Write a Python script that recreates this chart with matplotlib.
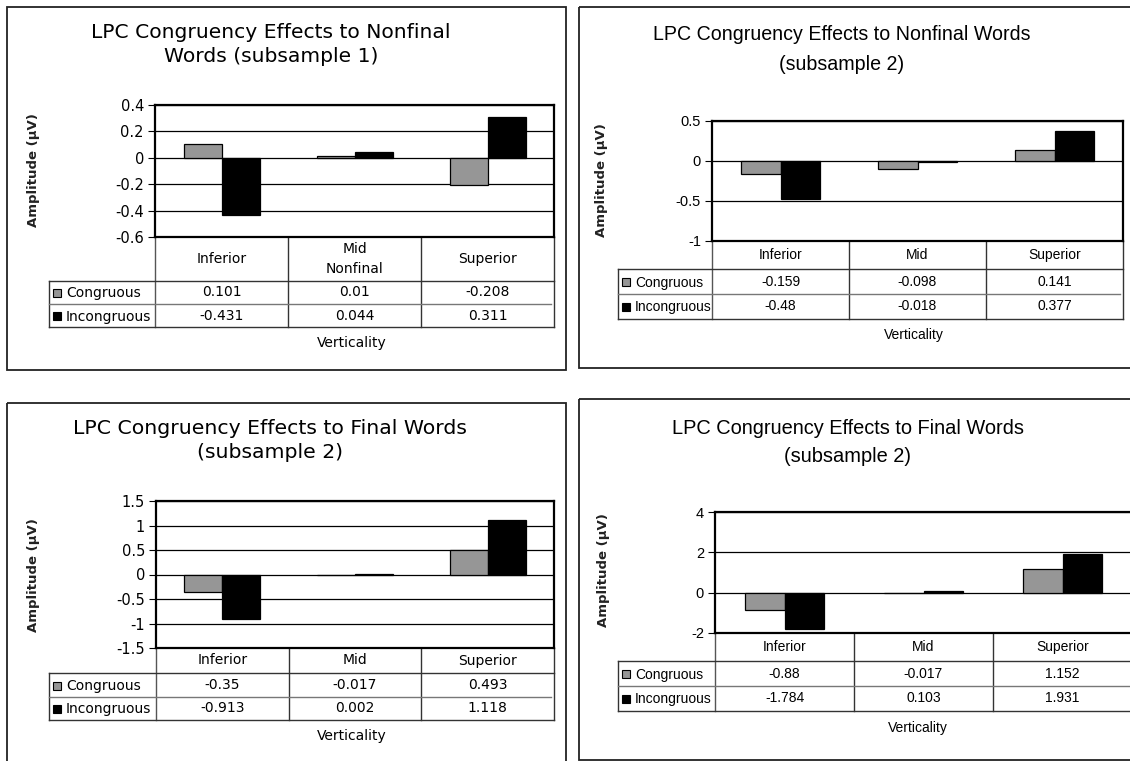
import numpy as np
import matplotlib
matplotlib.use("Agg")
import matplotlib.pyplot as plt
from matplotlib.patches import Rectangle

plt.rcParams['axes.unicode_minus'] = False

# ---- data ----
series_names = ["Congruous", "Incongruous"]
cats_nonfinal1 = ["Inferior", "Mid\nNonfinal", "Superior"]
cats_other = ["Inferior", "Mid", "Superior"]

nonfinal_s1_cong = [0.101, 0.01, -0.208]
nonfinal_s1_incong = [-0.431, 0.044, 0.311]
nonfinal_s2_cong = [-0.159, -0.098, 0.141]
nonfinal_s2_incong = [-0.48, -0.018, 0.377]
final_s2a_cong = [-0.35, -0.017, 0.493]
final_s2a_incong = [-0.913, 0.002, 1.118]
final_s2b_cong = [-0.88, -0.017, 1.152]
final_s2b_incong = [-1.784, 0.103, 1.931]

ticks_1 = [0.4, 0.2, 0, -0.2, -0.4, -0.6]
ticks_2 = [0.5, 0, -0.5, -1]
ticks_3 = [1.5, 1, 0.5, 0, -0.5, -1, -1.5]
ticks_4 = [4, 2, 0, -2]

title_1 = "LPC Congruency Effects to Nonfinal\nWords (subsample 1)"
title_2 = "LPC Congruency Effects to Nonfinal Words\n(subsample 2)"
title_3 = "LPC Congruency Effects to Final Words\n(subsample 2)"
title_4 = "LPC Congruency Effects to Final Words\n(subsample 2)"
ylab = "Amplitude (µV)"
xlab = "Verticality"

W, H = 1130, 761
GRAY = "#969696"

fig = plt.figure(figsize=(W / 100, H / 100), dpi=100)
fig.patch.set_facecolor("white")

# overlay in pixel coords for frames, titles and data tables
ov = fig.add_axes([0, 0, 1, 1])
ov.set_xlim(0, W)
ov.set_ylim(H, 0)
ov.axis("off")

# layout of each panel (pixels)
panels = [
    dict(cats=cats_nonfinal1, cong=nonfinal_s1_cong, inc=nonfinal_s1_incong, ticks=ticks_1,
         title=title_1, font="DejaVu Sans", tsize=14.6, fsize=10, ksize=10.5,
         plot=(155, 105, 554, 237), rows=(281, 304, 327), leg=49,
         ylab=(33, 170), tpos=(271, 32, 57), vpos=(352, 343), box=(7, 7, 566, 370)),
    dict(cats=cats_other, cong=nonfinal_s2_cong, inc=nonfinal_s2_incong, ticks=ticks_2,
         title=title_2, font="Liberation Sans", tsize=14.1, fsize=10, ksize=10.5,
         plot=(712, 121, 1123, 241), rows=(269, 294, 319), leg=618,
         ylab=(602, 180), tpos=(842, 35, 65), vpos=(914, 335), box=(579, 7, 1140, 368)),
    dict(cats=cats_other, cong=final_s2a_cong, inc=final_s2a_incong, ticks=ticks_3,
         title=title_3, font="DejaVu Sans", tsize=14.7, fsize=10, ksize=10.5,
         plot=(156, 501, 554, 648), rows=(673, 697, 720), leg=49,
         ylab=(33, 575), tpos=(270, 428, 453), vpos=(352, 736), box=(7, 403, 566, 775)),
    dict(cats=cats_other, cong=final_s2b_cong, inc=final_s2b_incong, ticks=ticks_4,
         title=title_4, font="Liberation Sans", tsize=14.4, fsize=10, ksize=10.5,
         plot=(715, 512, 1132, 633), rows=(661, 686, 711), leg=618,
         ylab=(603, 570), tpos=(848, 428, 457), vpos=(918, 728), box=(579, 399, 1140, 760)),
]

bw = 1 / 3.5  # Excel default gap width 150%

for p in panels:
    x0, y0, x1, y1 = p["plot"]
    fnt = p["font"]
    ax = fig.add_axes([x0 / W, 1 - y1 / H, (x1 - x0) / W, (y1 - y0) / H])
    xs = np.arange(len(p["cats"]))
    ax.bar(xs - bw / 2, p["cong"], bw, color=GRAY, edgecolor="black", linewidth=0.9, zorder=3)
    ax.bar(xs + bw / 2, p["inc"], bw, color="black", edgecolor="black", linewidth=0.9, zorder=3)
    ax.set_xlim(-0.5, len(p["cats"]) - 0.5)
    ax.set_ylim(min(p["ticks"]), max(p["ticks"]))
    ax.set_xticks([])
    ax.set_yticks(p["ticks"])
    ax.set_yticklabels([f"{t:g}" for t in p["ticks"]], fontfamily=fnt, fontsize=p["ksize"])
    ax.tick_params(axis="y", direction="out", length=5, width=0.8, pad=3)
    ax.yaxis.grid(True, color="black", linewidth=0.9)
    ax.set_axisbelow(True)
    for s in ax.spines.values():
        s.set_linewidth(1.6)
        s.set_color("black")

    # panel frame
    bx0, by0, bx1, by1 = p["box"]
    ov.add_patch(Rectangle((bx0, by0), bx1 - bx0, by1 - by0, fill=False,
                           edgecolor="#222222", linewidth=1.3))

    # titles and labels
    tx, ty1, ty2 = p["tpos"]
    l1, l2 = p["title"].split("\n")
    ov.text(tx, ty1, l1, ha="center", va="center", fontsize=p["tsize"], fontfamily=fnt)
    ov.text(tx, ty2, l2, ha="center", va="center", fontsize=p["tsize"], fontfamily=fnt)
    ov.text(p["ylab"][0], p["ylab"][1], ylab, rotation=90, ha="center", va="center",
            fontsize=9.5, fontweight="bold", color="#222222", fontfamily="DejaVu Sans")
    ov.text(p["vpos"][0], p["vpos"][1], xlab, ha="center", va="center",
            fontsize=p["fsize"], fontfamily=fnt)

    # data table under the plot
    r0, r1, r2 = p["rows"]
    leg = p["leg"]
    n = len(p["cats"])
    edges = [x0 + (x1 - x0) * i / n for i in range(n + 1)]
    centers = [(edges[i] + edges[i + 1]) / 2 for i in range(n)]
    lc = "#333333"
    for i, e in enumerate(edges):
        ov.plot([e, e], [y1, r2], color="#555555" if i == 0 else lc, lw=1)
    ov.plot([leg, leg], [r0, r2], color=lc, lw=1)
    ov.plot([leg, x1], [r0, r0], color=lc, lw=1)
    ov.plot([leg, x1 - 3], [r1, r1], color="#777777", lw=1)
    ov.plot([leg, x1], [r2, r2], color=lc, lw=1)

    hy = (y1 + r0) / 2
    for c, name in zip(centers, p["cats"]):
        ov.text(c, hy, name, ha="center", va="center", fontsize=p["fsize"],
                fontfamily=fnt, linespacing=1.5)

    row_vals = [p["cong"], p["inc"]]
    row_cols = [GRAY, "black"]
    row_mid = [(r0 + r1) / 2, (r1 + r2) / 2]
    for vals, col, ym, nm in zip(row_vals, row_cols, row_mid, series_names):
        ov.add_patch(Rectangle((leg + 4, ym - 3.5), 8, 8, facecolor=col,
                               edgecolor="black", linewidth=0.8))
        ov.text(leg + 17, ym + 1, nm, ha="left", va="center", fontsize=p["fsize"],
                fontfamily=fnt)
        for c, v in zip(centers, vals):
            ov.text(c, ym, f"{v:g}", ha="center", va="center", fontsize=p["fsize"],
                    fontfamily=fnt)

fig.savefig("out.png", dpi=100)
